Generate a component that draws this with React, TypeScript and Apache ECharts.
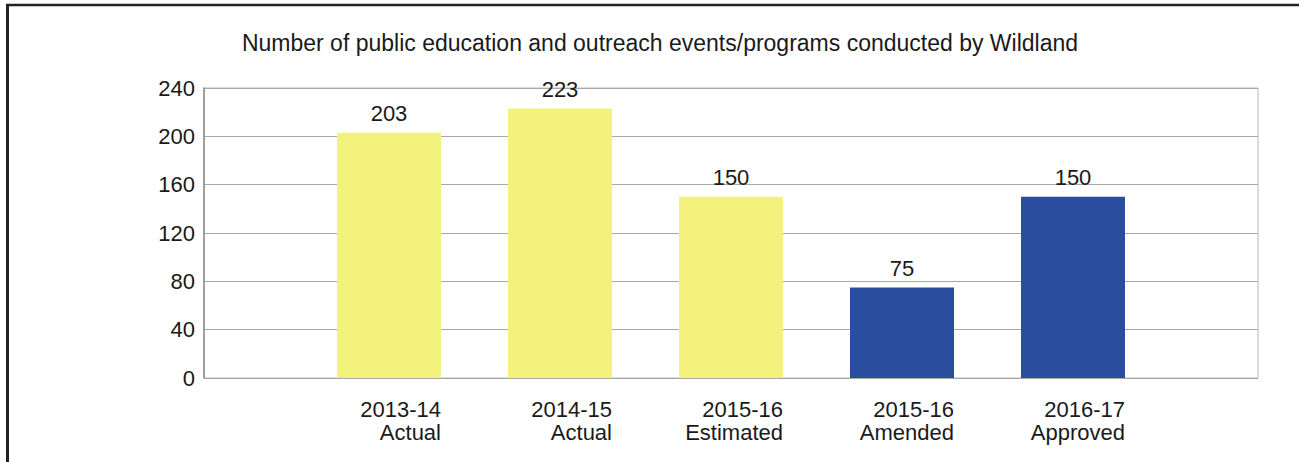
import React, { useEffect, useRef } from "react";
import * as echarts from "echarts";

const title = "Number of public education and outreach events/programs conducted by Wildland";
const periods = ["2013-14", "2014-15", "2015-16", "2015-16", "2016-17"];
const kinds = ["Actual", "Actual", "Estimated", "Amended", "Approved"];
const values = [203, 223, 150, 75, 150];
const barColors = ["#F3F27C", "#F3F27C", "#F3F27C", "#2B4D9D", "#2B4D9D"];
const yTicks = { min: 0, max: 240, interval: 40 };

const FONT = "Liberation Sans, Arial, sans-serif";

export default function App() {
  const ref = useRef<HTMLDivElement>(null);
  useEffect(() => {
    const chart = echarts.init(ref.current!, null, { renderer: "svg" });
    const cats = periods.map((p, i) => p + "\n" + kinds[i]);
    chart.setOption({
      animation: false,
      backgroundColor: "#ffffff",
      textStyle: { fontFamily: FONT },
      title: {
        text: title,
        left: 655,
        textAlign: "center",
        top: 26,
        textStyle: { fontSize: 23, fontWeight: "normal", color: "#1a1a1a", fontFamily: FONT },
      },
      graphic: [
        { type: "line", shape: { x1: 6, y1: 5, x2: 1299, y2: 5 }, style: { stroke: "#222", lineWidth: 2.5 } },
        { type: "line", shape: { x1: 7.5, y1: 4, x2: 7.5, y2: 462 }, style: { stroke: "#222", lineWidth: 3 } },
      ],
      grid: [
        { left: 204, top: 88, width: 1054, height: 290, show: true, borderColor: "#b8b8b8", borderWidth: 1, backgroundColor: "transparent" },
        { left: 303.5, top: 88, width: 855, height: 290 },
      ],
      xAxis: [
        { type: "value", gridIndex: 0, min: 0, max: 1, show: false },
        {
          type: "category",
          gridIndex: 1,
          data: cats,
          axisLine: { show: false },
          axisTick: { show: false },
          axisLabel: {
            margin: 20,
            interval: 0,
            formatter: (v: string) => {
              const [a, b] = v.split("\n");
              return "{t|" + a + "}\n{t|" + b + "}";
            },
            rich: {
              t: { fontSize: 22, lineHeight: 23, color: "#1a1a1a", align: "right", width: 104, fontFamily: FONT },
            },
          },
        },
      ],
      yAxis: [
        {
          type: "value",
          gridIndex: 0,
          min: yTicks.min,
          max: yTicks.max,
          interval: yTicks.interval,
          axisLine: { show: true, lineStyle: { color: "#8a8a8a", width: 1.5 } },
          axisTick: { show: false },
          axisLabel: { fontSize: 22, color: "#1a1a1a", margin: 9, fontFamily: FONT },
          splitLine: { lineStyle: { color: "#a8a8a8", width: 1.2 } },
        },
        { type: "value", gridIndex: 1, min: yTicks.min, max: yTicks.max, interval: yTicks.interval, show: false },
      ],
      series: [
        {
          type: "bar",
          xAxisIndex: 1,
          yAxisIndex: 1,
          barWidth: 104,
          data: values.map((v, i) => ({ value: v, itemStyle: { color: barColors[i] } })),
          label: {
            show: true,
            position: "top",
            distance: 8,
            fontSize: 22,
            color: "#1a1a1a",
            fontFamily: FONT,
          },
        },
      ],
    });
    return () => chart.dispose();
  }, []);
  return <div ref={ref} style={{ position: "absolute", left: 0, top: 0, width: 1299, height: 462 }} />;
}
